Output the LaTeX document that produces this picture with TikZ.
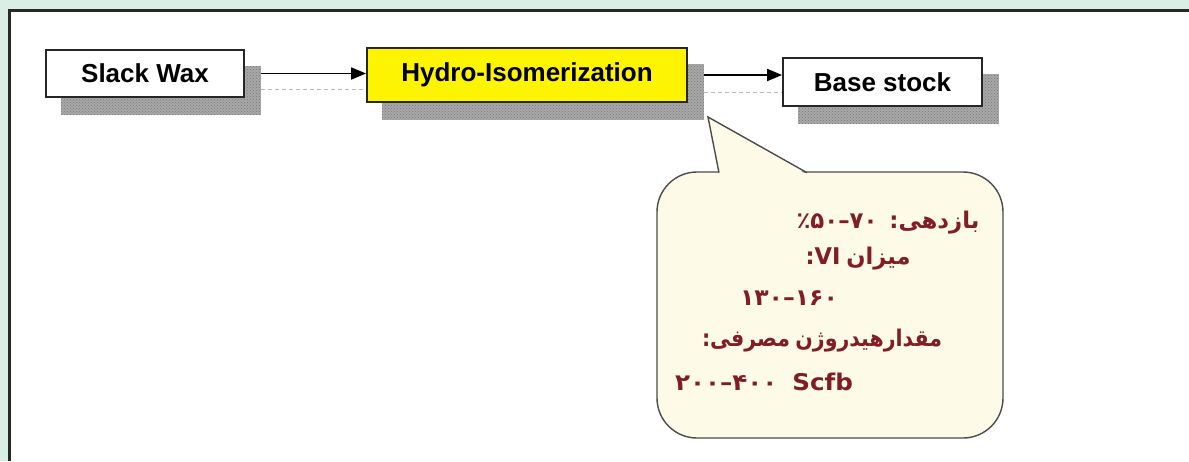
\documentclass[tikz,border=0pt]{standalone}
\usepackage{fontspec}
\usepackage{graphicx}
\setmainfont{Liberation Sans}
\newfontfamily\af[Script=Arabic]{DejaVu Sans}
\TeXXeTstate=1
\usetikzlibrary{arrows.meta,patterns,calc,backgrounds}
\definecolor{mint}{RGB}{218,238,230}
\definecolor{cream}{RGB}{253,251,232}
\definecolor{ylw}{RGB}{252,244,0}
\definecolor{dred}{RGB}{128,30,36}
\definecolor{framec}{RGB}{40,40,40}
\definecolor{shadowc}{RGB}{168,168,168}
\definecolor{shadowd}{RGB}{120,120,120}
\newcommand\persw[1]{\hbox{\beginR #1\endR}}
\tikzset{
  procbox/.style={draw=black!85, line width=1.8pt, fill=white, inner sep=0pt,
    font=\bfseries\fontsize{26}{30}\selectfont},
  flowarrow/.style={line width=1.8pt, -{Triangle[length=15pt,width=12pt]}},
  shadowline/.style={gray!55, line width=0.8pt, dash pattern=on 4pt off 3pt},
  shadowbox/.style={fill=shadowc},
  shadowdots/.style={pattern=crosshatch dots, pattern color=shadowd},
  calltext/.style={text=dred, font=\af\bfseries\fontsize{23}{26}\selectfont, inner sep=0pt},
  callout/.style={fill=cream, draw=gray!60!black, line width=1.4pt},
}
\begin{document}
\begin{tikzpicture}[x=1pt,y=-1pt]
\useasboundingbox (0,0) rectangle (1189,461);
% process boxes
\node[procbox, minimum width=198pt, minimum height=47pt] (slack) at (145,73.5) {Slack Wax};
\node[procbox, fill=ylw, minimum width=320pt, minimum height=54pt] (hydro) at (527,75) {Hydro-Isomerization};
\node[procbox, minimum width=199pt, minimum height=48pt] (base) at (882.5,82) {Base stock};
% connectors
\coordinate (a1s) at ($(slack.east)+(16,0)$);
\coordinate (d1s) at ($(slack.east)+(16,16)$);
\coordinate (a2s) at ($(hydro.east)+(16,0)$);
\coordinate (d2s) at ($(hydro.east)+(16,17)$);
\draw[flowarrow] (a1s) -- (a1s -| hydro.west);
\draw[flowarrow] (a2s) -- (a2s -| base.west);
% callout
\draw[callout, rounded corners=40pt] (657,172) rectangle (1003,438);
\fill[cream] (719,174) -- (708,117) -- (806,174) -- cycle;
\draw[gray!60!black, line width=1.4pt] (719,172.7) -- (708,117) -- (807,172.7);
\node[calltext] (t1) at (888,223) {\resizebox{183pt}{\height}{\hbox{٪}\hbox{۵۰}\hbox{–}\hbox{۷۰}\hskip12pt\hbox{:}\persw{بازدهی}}};
\node[calltext] (t2) at (858,259) {\resizebox{105pt}{\height}{\hbox{:}\hbox{VI}\hskip6pt\persw{میزان}}};
\node[calltext] (t3) at (789,298) {\resizebox{98pt}{\height}{\hbox{۱۳۰}\hbox{–}\hbox{۱۶۰}}};
\node[calltext] (t4) at (822,341) {\resizebox{240pt}{\height}{\hbox{:}\persw{مصرفی}\hskip6pt\persw{مقدارهیدروژن}}};
\node[calltext] (t5) at (764,382) {\resizebox{178pt}{\height}{\hbox{۲۰۰}\hbox{–}\hbox{۴۰۰}\hskip14pt\hbox{Scfb}}};
% background, frame, shadows
\begin{scope}[on background layer]
  \fill[mint] (0,0) rectangle (1189,461);
  \fill[white] (9,10) rectangle (1189,461);
  \draw[framec, line width=3pt] (9,461) -- (9,10) -- (1189,10);
  \foreach \n in {slack,hydro,base}{
    \fill[shadowbox] ($(\n.north west)+(16,17)$) rectangle ($(\n.south east)+(16,17)$);
    \fill[shadowdots] ($(\n.north west)+(16,17)$) rectangle ($(\n.south east)+(16,17)$);
  }
  \draw[shadowline] (d1s) -- (d1s -| hydro.west);
  \draw[shadowline] (d2s) -- (d2s -| base.west);
\end{scope}
\end{tikzpicture}
\end{document}
